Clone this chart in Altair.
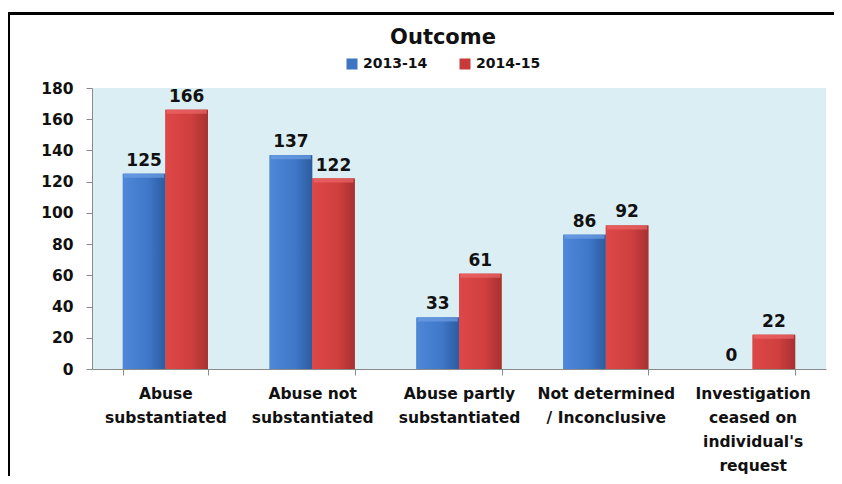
import altair as alt
import pandas as pd

categories = [
    "Abuse\nsubstantiated",
    "Abuse not\nsubstantiated",
    "Abuse partly\nsubstantiated",
    "Not determined\n/ Inconclusive",
    "Investigation\nceased on\nindividual's\nrequest",
]
years = ["2013-14", "2014-15"]
values_2013 = [125, 137, 33, 86, 0]
values_2014 = [166, 122, 61, 92, 22]
y_ticks = [0, 20, 40, 60, 80, 100, 120, 140, 160, 180]

rows = []
for c, a, b in zip(categories, values_2013, values_2014):
    rows.append({"category": c, "year": years[0], "value": a})
    rows.append({"category": c, "year": years[1], "value": b})
df = pd.DataFrame(rows)

FONT = "DejaVu Sans"
TXT = "#111111"
AX = "#8a8a8a"

base = alt.Chart(df).encode(
    x=alt.X(
        "category:N",
        sort=categories,
        scale=alt.Scale(paddingInner=0.42, paddingOuter=0.21),
        axis=alt.Axis(
            title=None,
            labelAngle=0,
            labelExpr="split(datum.label, '\\n')",
            labelFont=FONT,
            labelFontSize=15.5,
            labelFontWeight="bold",
            labelColor=TXT,
            labelLineHeight=24,
            labelPadding=11,
            labelBaseline="top",
            tickBand="extent",
            tickSize=6,
            tickColor=AX,
            domainColor=AX,
            labelLimit=200,
            grid=False,
        ),
    ),
    xOffset=alt.XOffset("year:N", sort=years, scale=alt.Scale(domain=years)),
    y=alt.Y(
        "value:Q",
        scale=alt.Scale(domain=[0, 180], nice=False),
        axis=alt.Axis(
            title=None,
            values=y_ticks,
            grid=False,
            labelFont=FONT,
            labelFontSize=15.5,
            labelFontWeight="bold",
            labelColor=TXT,
            labelPadding=13,
            tickSize=6,
            tickColor=AX,
            domainColor=AX,
        ),
    ),
)

bars = base.mark_bar().encode(
    color=alt.Color(
        "year:N",
        sort=years,
        scale=alt.Scale(domain=years, range=["#3E74C2", "#C83A3A"]),
        legend=alt.Legend(
            title=None,
            orient="none",
            legendX=253,
            legendY=-31,
            direction="horizontal",
            symbolType="square",
            symbolSize=121,
            symbolStrokeWidth=0,
            labelFont=FONT,
            labelFontSize=14,
            labelFontWeight="bold",
            labelColor=TXT,
            columnPadding=30,
        ),
    )
)

blue_grad = alt.LinearGradient(
    gradient="linear", x1=0, x2=1, y1=0, y2=0,
    stops=[
        alt.GradientStop(color="#4F88D8", offset=0),
        alt.GradientStop(color="#3F77C9", offset=0.6),
        alt.GradientStop(color="#2D5C9F", offset=1),
    ],
)
red_grad = alt.LinearGradient(
    gradient="linear", x1=0, x2=1, y1=0, y2=0,
    stops=[
        alt.GradientStop(color="#DE4747", offset=0),
        alt.GradientStop(color="#D03F3F", offset=0.6),
        alt.GradientStop(color="#A83131", offset=1),
    ],
)

g1 = base.transform_filter(alt.datum.year == years[0]).mark_bar(color=blue_grad)
g2 = base.transform_filter(alt.datum.year == years[1]).mark_bar(color=red_grad)

t1 = base.transform_filter(
    (alt.datum.year == years[0]) & (alt.datum.value > 0)
).mark_tick(color="#6E9FE6", thickness=4, size=40, yOffset=2)
t2 = base.transform_filter(
    (alt.datum.year == years[1]) & (alt.datum.value > 0)
).mark_tick(color="#EC6666", thickness=4, size=40, yOffset=2)

labels = base.mark_text(
    dy=-4, baseline="bottom", font=FONT, fontSize=17, fontWeight="bold", color=TXT
).encode(text="value:Q")

frame_left = alt.Chart(df).mark_rule(color="#000000", strokeWidth=2.5).encode(
    x=alt.value(-83.5), y=alt.value(-74.5), y2=alt.value(420)
)
frame_top = alt.Chart(df).mark_rule(color="#000000", strokeWidth=2.5).encode(
    x=alt.value(-83.5), x2=alt.value(760), y=alt.value(-74.5)
)

chart = (
    alt.layer(bars, g1, g2, t1, t2, labels, frame_left, frame_top)
    .properties(
        width=734,
        height=281,
        background="white",
        view=alt.ViewBackground(fill="#DBEEF3", stroke="transparent", strokeWidth=0),
        autosize=alt.AutoSizeParams(type="none"),
        padding={"left": 84, "top": 80, "right": 8, "bottom": 107},
        title=alt.TitleParams(
            "Outcome", font=FONT, fontSize=21, fontWeight="bold", color=TXT,
            anchor="middle", dx=-16, dy=44, offset=8,
        ),
    )
    .configure_view(fill="#DBEEF3", stroke="transparent", strokeWidth=0)
)

chart.save("out.html", embed_options={"renderer": "svg", "actions": False})
